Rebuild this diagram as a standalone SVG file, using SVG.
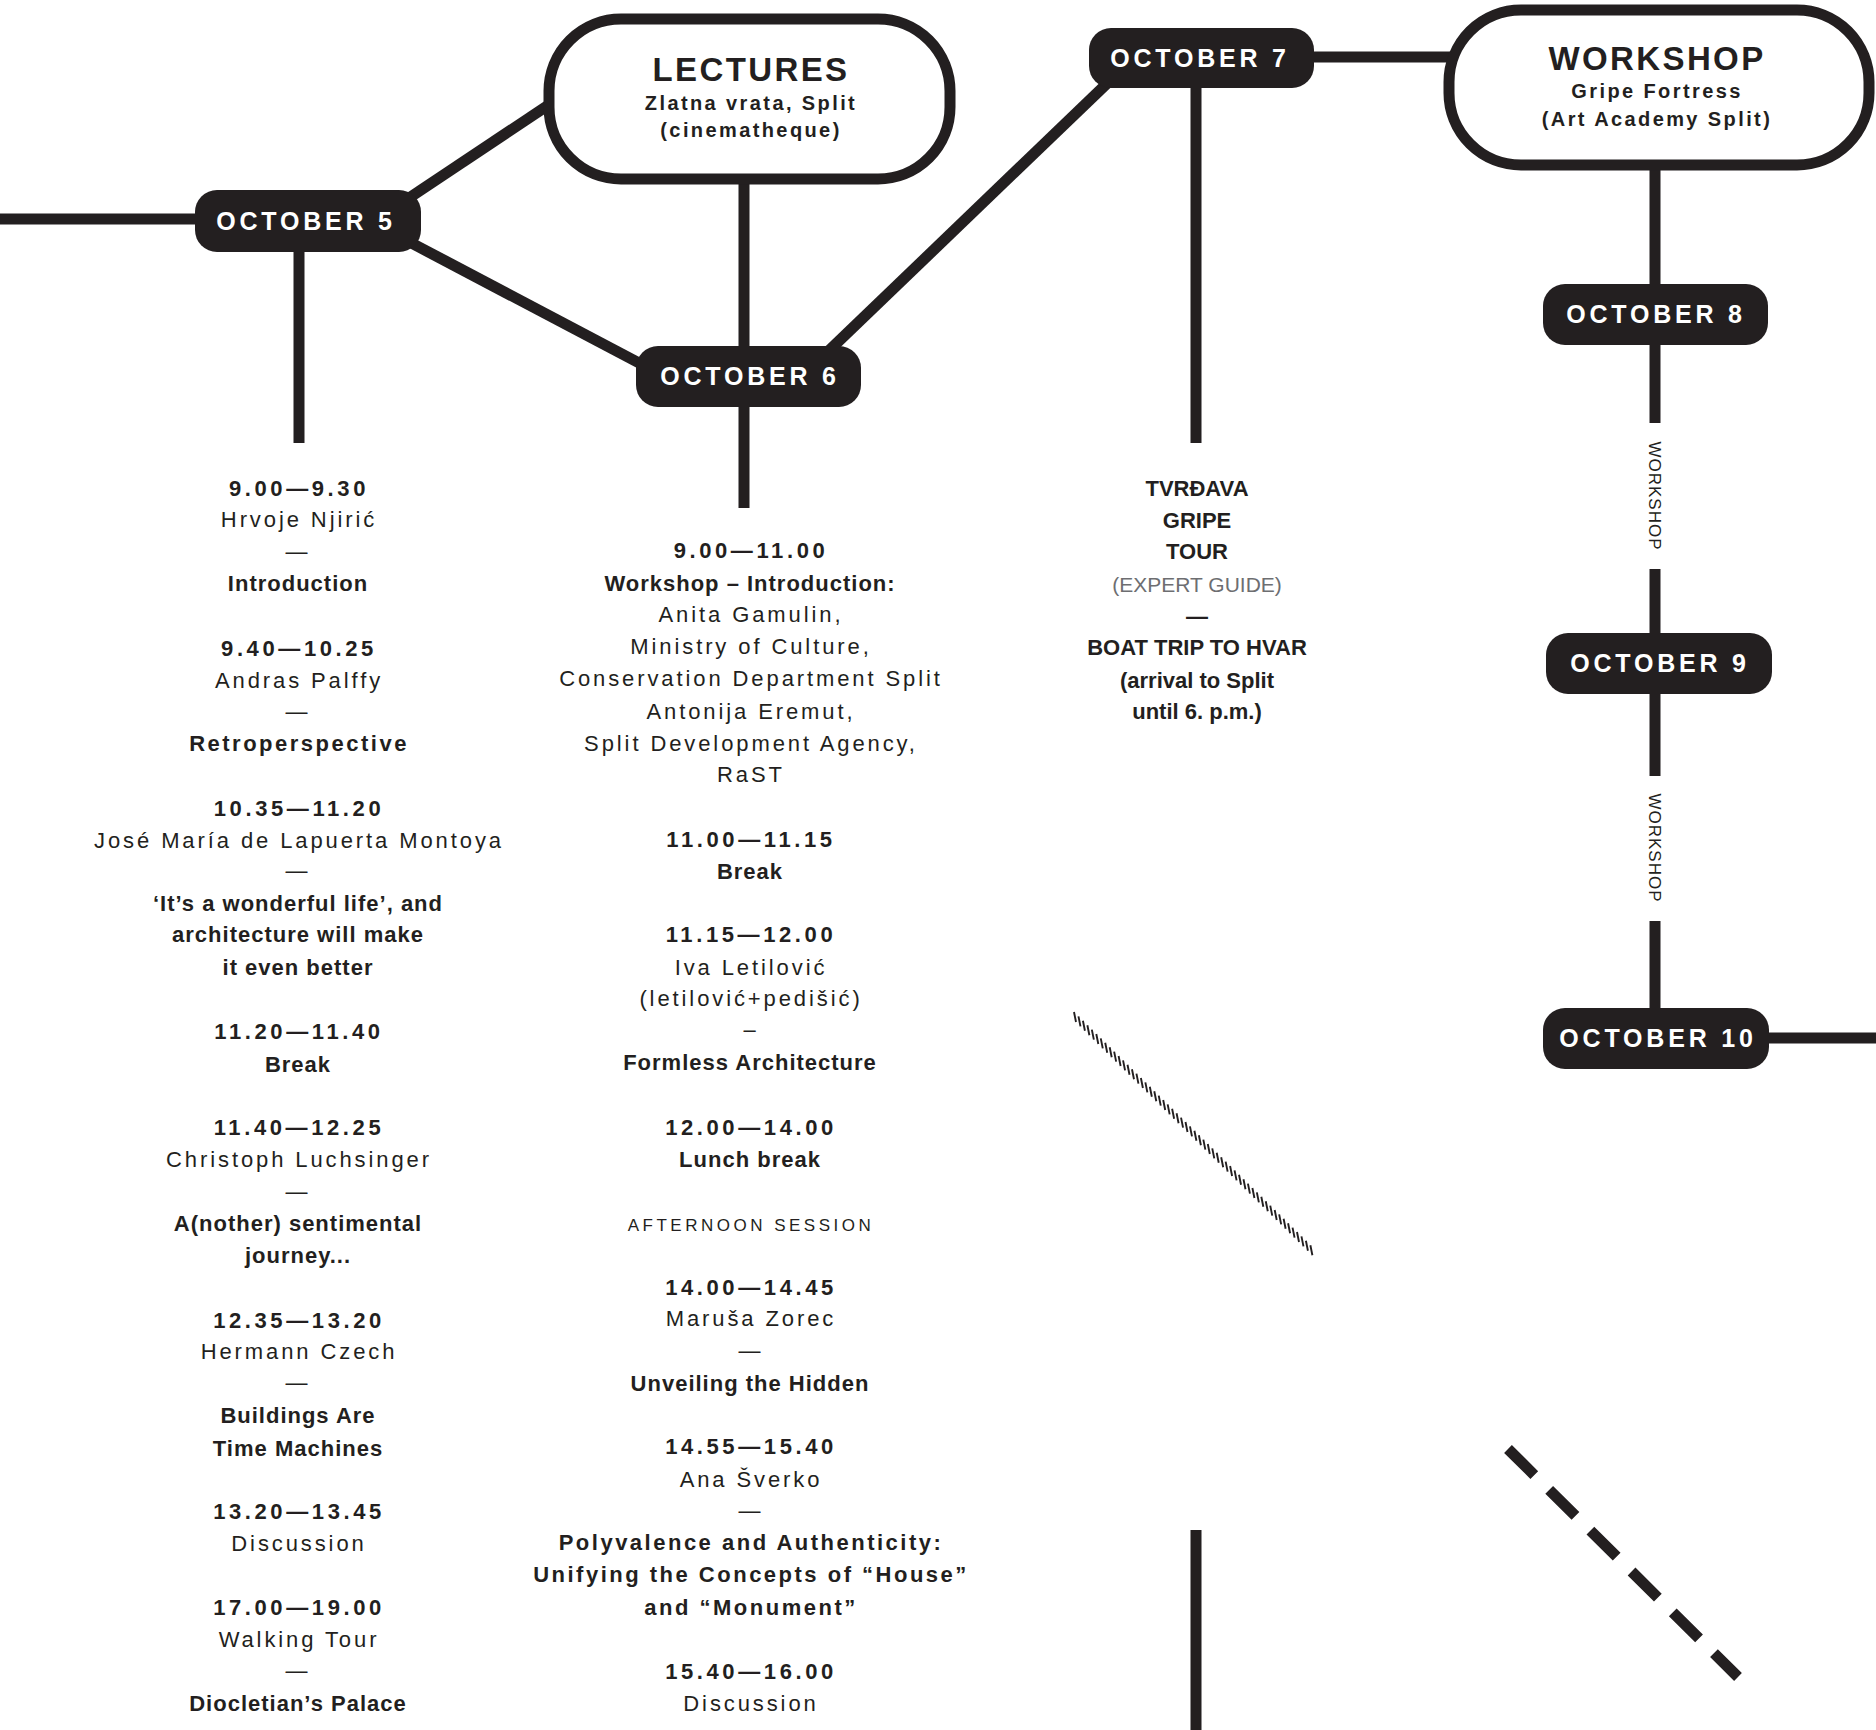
<svg xmlns="http://www.w3.org/2000/svg" width="1876" height="1730" viewBox="0 0 1876 1730">
<style>
.ln{stroke:#231f20;stroke-width:11;fill:none}
.pill{fill:#231f20}
.box{fill:#fff;stroke:#231f20;stroke-width:11}
text{font-family:'Liberation Sans',Arial,sans-serif;fill:#231f20;text-anchor:middle}
.pt{font-weight:bold;font-size:25px;fill:#fff;letter-spacing:3.8px}
.h1{font-weight:bold;font-size:33px;letter-spacing:2.4px}
.h2{font-weight:bold;font-size:20px;letter-spacing:2.4px}
.t{font-weight:bold;font-size:22px;letter-spacing:3.6px}
.n{font-size:22px;letter-spacing:2.9px}
.b{font-weight:bold;font-size:22px;letter-spacing:1px}
.bw{font-weight:bold;font-size:22px;letter-spacing:2.5px}
.c{font-weight:bold;font-size:22px}
.g{font-size:21px;fill:#6d6e71}
.s{font-size:17px;letter-spacing:3.5px}
.v{font-size:17px;letter-spacing:1px}
</style>
<rect width="1876" height="1730" fill="#fff"/>
<g id="connectors">
<line class="ln" x1="0" y1="219" x2="210" y2="219"/>
<line class="ln" x1="400" y1="204" x2="550" y2="104"/>
<line class="ln" x1="400" y1="237" x2="660" y2="374"/>
<line class="ln" x1="299" y1="240" x2="299" y2="443"/>
<line class="ln" x1="744" y1="179" x2="744" y2="360"/>
<line class="ln" x1="744" y1="400" x2="744" y2="508"/>
<line class="ln" x1="815" y1="364" x2="1120" y2="71"/>
<line class="ln" x1="1300" y1="57" x2="1452" y2="57"/>
<line class="ln" x1="1196" y1="80" x2="1196" y2="443"/>
<line class="ln" x1="1655" y1="165" x2="1655" y2="290"/>
<line class="ln" x1="1655" y1="340" x2="1655" y2="423"/>
<line class="ln" x1="1655" y1="569" x2="1655" y2="640"/>
<line class="ln" x1="1655" y1="690" x2="1655" y2="776"/>
<line class="ln" x1="1655" y1="921" x2="1655" y2="1012"/>
<line class="ln" x1="1760" y1="1038" x2="1876" y2="1038"/>
<line class="ln" x1="1196" y1="1530" x2="1196" y2="1730"/>
<line class="ln" x1="1508" y1="1449" x2="1738" y2="1677" stroke-width="12" stroke-dasharray="37 21"/>
<path d="M1074 1012 l2 10 m2.46 -5.6 l2 10 m2.46 -5.6 l2 10 m2.46 -5.6 l2 10 m2.46 -5.6 l2 10 m2.46 -5.6 l2 10 m2.46 -5.6 l2 10 m2.46 -5.6 l2 10 m2.46 -5.6 l2 10 m2.46 -5.6 l2 10 m2.46 -5.6 l2 10 m2.46 -5.6 l2 10 m2.46 -5.6 l2 10 m2.46 -5.6 l2 10 m2.46 -5.6 l2 10 m2.46 -5.6 l2 10 m2.46 -5.6 l2 10 m2.46 -5.6 l2 10 m2.46 -5.6 l2 10 m2.46 -5.6 l2 10 m2.46 -5.6 l2 10 m2.46 -5.6 l2 10 m2.46 -5.6 l2 10 m2.46 -5.6 l2 10 m2.46 -5.6 l2 10 m2.46 -5.6 l2 10 m2.46 -5.6 l2 10 m2.46 -5.6 l2 10 m2.46 -5.6 l2 10 m2.46 -5.6 l2 10 m2.46 -5.6 l2 10 m2.46 -5.6 l2 10 m2.46 -5.6 l2 10 m2.46 -5.6 l2 10 m2.46 -5.6 l2 10 m2.46 -5.6 l2 10 m2.46 -5.6 l2 10 m2.46 -5.6 l2 10 m2.46 -5.6 l2 10 m2.46 -5.6 l2 10 m2.46 -5.6 l2 10 m2.46 -5.6 l2 10 m2.46 -5.6 l2 10 m2.46 -5.6 l2 10 m2.46 -5.6 l2 10 m2.46 -5.6 l2 10 m2.46 -5.6 l2 10 m2.46 -5.6 l2 10 m2.46 -5.6 l2 10 m2.46 -5.6 l2 10 m2.46 -5.6 l2 10 m2.46 -5.6 l2 10 m2.46 -5.6 l2 10 m2.46 -5.6 l2 10" stroke="#231f20" stroke-width="1.9" fill="none"/>
</g>
<g id="lectures">
<rect class="box" x="549" y="19" width="401" height="160" rx="72"/>
<text class="h1" x="751" y="81">LECTURES</text>
<text class="h2" x="751" y="110">Zlatna vrata, Split</text>
<text class="h2" x="751" y="137">(cinematheque)</text>
</g>
<g id="workshop">
<rect class="box" x="1449" y="10" width="420" height="155" rx="72"/>
<text class="h1" x="1657" y="70">WORKSHOP</text>
<text class="h2" x="1657" y="98">Gripe Fortress</text>
<text class="h2" x="1657" y="126">(Art Academy Split)</text>
</g>
<g id="oct5"><rect class="pill" x="195" y="190" width="226" height="62" rx="22"/><text class="pt" x="306" y="230">OCTOBER 5</text></g>
<g id="oct6"><rect class="pill" x="636" y="346" width="225" height="61" rx="22"/><text class="pt" x="750" y="385">OCTOBER 6</text></g>
<g id="oct7"><rect class="pill" x="1089" y="28" width="225" height="60" rx="22"/><text class="pt" x="1200" y="67">OCTOBER 7</text></g>
<g id="oct8"><rect class="pill" x="1543" y="284" width="225" height="61" rx="22"/><text class="pt" x="1656" y="323">OCTOBER 8</text></g>
<g id="oct9"><rect class="pill" x="1546" y="633" width="226" height="61" rx="22"/><text class="pt" x="1660" y="672">OCTOBER 9</text></g>
<g id="oct10"><rect class="pill" x="1543" y="1008" width="226" height="61" rx="22"/><text class="pt" x="1658" y="1047">OCTOBER 10</text></g>
<g id="workshop-labels">
<text class="v" transform="translate(1655,496) rotate(90)" dy="6">WORKSHOP</text>
<text class="v" transform="translate(1655,848) rotate(90)" dy="6">WORKSHOP</text>
</g>
<g id="day1">
<text class="t" x="299" y="496">9.00—9.30</text>
<text class="n" x="299" y="527">Hrvoje Njirić</text>
<text class="n" x="298" y="559">—</text>
<text class="b" x="298" y="591">Introduction</text>
<text class="t" x="299" y="656">9.40—10.25</text>
<text class="n" x="299" y="688">Andras Palffy</text>
<text class="n" x="298" y="719">—</text>
<text class="bw" x="299" y="751">Retroperspective</text>
<text class="t" x="299" y="816">10.35—11.20</text>
<text class="n" x="299" y="848">José María de Lapuerta Montoya</text>
<text class="n" x="298" y="878">—</text>
<text class="b" x="298" y="911">‘It’s a wonderful life’, and</text>
<text class="b" x="298" y="942">architecture will make</text>
<text class="b" x="298" y="975">it even better</text>
<text class="t" x="299" y="1039">11.20—11.40</text>
<text class="b" x="298" y="1072">Break</text>
<text class="t" x="299" y="1135">11.40—12.25</text>
<text class="n" x="299" y="1167">Christoph Luchsinger</text>
<text class="n" x="298" y="1199">—</text>
<text class="b" x="298" y="1231">A(nother) sentimental</text>
<text class="b" x="298" y="1263">journey...</text>
<text class="t" x="299" y="1328">12.35—13.20</text>
<text class="n" x="299" y="1359">Hermann Czech</text>
<text class="n" x="298" y="1390">—</text>
<text class="b" x="298" y="1423">Buildings Are</text>
<text class="b" x="298" y="1456">Time Machines</text>
<text class="t" x="299" y="1519">13.20—13.45</text>
<text class="n" x="299" y="1551">Discussion</text>
<text class="t" x="299" y="1615">17.00—19.00</text>
<text class="n" x="299" y="1647">Walking Tour</text>
<text class="n" x="298" y="1678">—</text>
<text class="b" x="298" y="1711">Diocletian’s Palace</text>
</g>
<g id="day2">
<text class="t" x="751" y="558">9.00—11.00</text>
<text class="b" x="750" y="591">Workshop – Introduction:</text>
<text class="n" x="751" y="622">Anita Gamulin,</text>
<text class="n" x="751" y="654">Ministry of Culture,</text>
<text class="n" x="751" y="686">Conservation Department Split</text>
<text class="n" x="751" y="719">Antonija Eremut,</text>
<text class="n" x="751" y="751">Split Development Agency,</text>
<text class="n" x="751" y="782">RaST</text>
<text class="t" x="751" y="847">11.00—11.15</text>
<text class="b" x="750" y="879">Break</text>
<text class="t" x="751" y="942">11.15—12.00</text>
<text class="n" x="751" y="975">Iva Letilović</text>
<text class="n" x="751" y="1006">(letilović+pedišić)</text>
<text class="n" x="751" y="1037">–</text>
<text class="b" x="750" y="1070">Formless Architecture</text>
<text class="t" x="751" y="1135">12.00—14.00</text>
<text class="b" x="750" y="1167">Lunch break</text>
<text class="s" x="751" y="1231">AFTERNOON SESSION</text>
<text class="t" x="751" y="1295">14.00—14.45</text>
<text class="n" x="751" y="1326">Maruša Zorec</text>
<text class="n" x="751" y="1358">—</text>
<text class="b" x="750" y="1391">Unveiling the Hidden</text>
<text class="t" x="751" y="1454">14.55—15.40</text>
<text class="n" x="751" y="1487">Ana Šverko</text>
<text class="n" x="751" y="1518">—</text>
<text class="bw" x="751" y="1550">Polyvalence and Authenticity:</text>
<text class="bw" x="751" y="1582">Unifying the Concepts of “House”</text>
<text class="bw" x="751" y="1615">and “Monument”</text>
<text class="t" x="751" y="1679">15.40—16.00</text>
<text class="n" x="751" y="1711">Discussion</text>
</g>
<g id="day3">
<text class="c" x="1197" y="496">TVRĐAVA</text>
<text class="c" x="1197" y="528">GRIPE</text>
<text class="c" x="1197" y="559">TOUR</text>
<text class="g" x="1197" y="592">(EXPERT GUIDE)</text>
<text class="c" x="1197" y="624">—</text>
<text class="c" x="1197" y="655">BOAT TRIP TO HVAR</text>
<text class="c" x="1197" y="688">(arrival to Split</text>
<text class="c" x="1197" y="719">until 6. p.m.)</text>
</g>
</svg>
